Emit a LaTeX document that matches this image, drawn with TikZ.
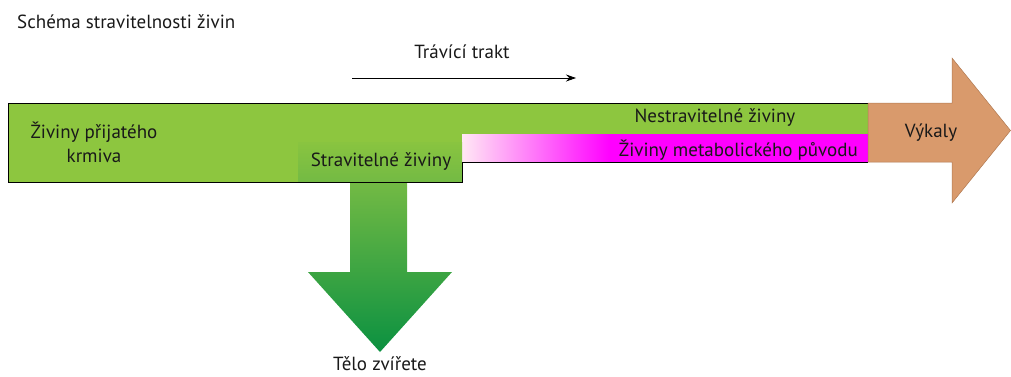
\documentclass[tikz,border=0pt]{standalone}
\usepackage{fontspec}
\setmainfont{PT Sans}
\usetikzlibrary{arrows.meta}
\definecolor{grn}{HTML}{8DC63F}
\definecolor{grnB}{HTML}{73BA44}
\definecolor{grnD}{HTML}{0B9141}
\definecolor{mag}{HTML}{FF00FF}
\definecolor{pinkL}{HTML}{FFE8F4}
\definecolor{brn}{HTML}{D99A6C}
\definecolor{brnD}{HTML}{B07850}
\begin{document}
\begin{tikzpicture}[x=1pt,y=-1pt,
  lbl/.style={font=\fontsize{19}{24}\selectfont, inner sep=0pt, text=black!90},
  outl/.style={draw=black, line width=0.9pt}]
\useasboundingbox (0,0) rectangle (1011,376);
% main green body
\fill[grn] (8,103) rectangle (868,182);
\fill[white] (462,162) rectangle (868,183);
% pink gradient band
\shade[left color=pinkL, right color=mag] (462,134) rectangle (610,162);
\fill[mag] (609.5,134) rectangle (868,162);
% stravitelne box + down arrow
\shade[top color=grn!85!grnB, bottom color=grnB] (298,142) rectangle (462,182);
\shade[top color=grnB, bottom color=grnD]
  (350,182) -- (407,182) -- (407,272) -- (452,272) -- (380,352) -- (308,272) -- (350,272) -- cycle;
% outline
\draw[outl] (868,103) -- (8,103) -- (8,182) -- (462,182) -- (462,162) -- (868,162);
% right brown arrow
\filldraw[fill=brn, draw=brnD, line width=0.5pt]
  (868,103) -- (952,103) -- (952,58) -- (1010.5,130.5) -- (952,203) -- (952,162) -- (868,162) -- cycle;
% texts
\node[lbl, anchor=west] (title) at (17,22) {Schéma stravitelnosti živin};
\node[lbl] (trakt) at (462,52) {Trávící trakt};
\coordinate (ta) at (352,78);
\coordinate (tb) at (576,78);
\draw[-{Stealth[length=10pt,width=7pt]}, line width=0.8pt] (ta) -- (tb);
\node[lbl, align=center] (krm) at (94,142) {Živiny přijatého\\krmiva};
\node[lbl] (strav) at (381,161) {Stravitelné živiny};
\node[lbl] (nestrav) at (715,117) {Nestravitelné živiny};
\node[lbl, anchor=east] (metab) at (858,150) {Živiny metabolického původu};
\node[lbl] (vyk) at (931,133) {Výkaly};
\node[lbl] (telo) at (380,364) {Tělo zvířete};
\end{tikzpicture}
\end{document}
